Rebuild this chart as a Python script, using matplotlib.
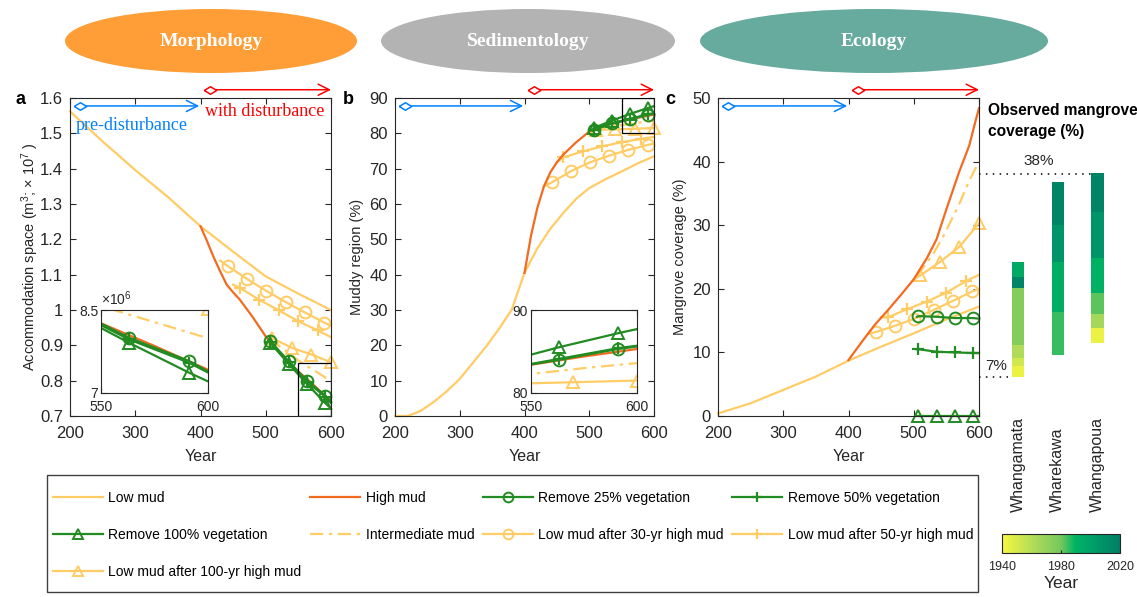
import numpy as np
import matplotlib
matplotlib.use("Agg")
import matplotlib.pyplot as plt
from matplotlib.lines import Line2D
from matplotlib.patches import Ellipse, Rectangle
from matplotlib.colors import LinearSegmentedColormap, Normalize
from matplotlib.cm import ScalarMappable
from matplotlib.ticker import FuncFormatter

plt.rcParams['font.family'] = ['Liberation Sans', 'DejaVu Sans']
plt.rcParams['mathtext.fontset'] = 'custom'
plt.rcParams['mathtext.rm'] = 'Liberation Sans'
plt.rcParams['mathtext.it'] = 'Liberation Sans:italic'

# ---- data ----
yr_low = [200, 250, 300, 350, 400, 450, 500, 550, 600]
yr_low_b = [200, 220, 240, 260, 280, 300, 320, 340, 360, 380, 400, 420, 440, 460,
            480, 500, 525, 550, 575, 600]
yr_high_ab = [400, 410, 420, 430, 440, 450, 460, 480, 500, 525, 550, 575, 600]
yr_high_c = [400, 420, 440, 460, 480, 500, 520, 535, 550, 570, 585, 595, 600]
yr_int = [505, 525, 550, 575, 600]
yr_int_c = [505, 530, 545, 560, 570, 585, 600]
yr_30 = [430, 442, 472, 501, 531, 560, 590, 600]
yr_50 = [450, 460, 490, 520, 550, 580, 600]
yr_100 = [500, 510, 540, 570, 600]
yr_veg = [505, 507, 535, 563, 591, 600]

# a: accommodation space (x 1e7 m3)
a_low = [1.562, 1.477, 1.396, 1.320, 1.237, 1.165, 1.095, 1.046, 1.000]
a_high = [1.237, 1.195, 1.150, 1.110, 1.072, 1.050, 1.030, 0.980, 0.925, 0.870, 0.826, 0.785, 0.742]
a_int = [0.915, 0.893, 0.857, 0.828, 0.799]
a_30 = [1.140, 1.124, 1.087, 1.054, 1.022, 0.993, 0.964, 0.955]
a_50 = [1.072, 1.063, 1.029, 0.999, 0.968, 0.942, 0.923]
a_100 = [0.925, 0.920, 0.893, 0.874, 0.852]
a_rm25 = [0.915, 0.912, 0.855, 0.800, 0.758, 0.739]
a_rm50 = [0.914, 0.910, 0.852, 0.797, 0.755, 0.737]
a_rm100 = [0.912, 0.907, 0.848, 0.791, 0.737, 0.721]

# b: muddy region (%)
b_low = [0, 0, 1.5, 4, 7, 10.5, 15, 19.5, 24.5, 30, 40.5, 47.5, 53, 57.5,
         61.5, 64.5, 67, 69.2, 71.5, 73.5]
b_high = [40.5, 51, 59, 65, 69, 71.8, 74, 77.5, 80.5, 82.4, 83.4, 84.4, 85.3]
b_int = [80.7, 81.6, 82.3, 83.0, 83.6]
b_30 = [65.0, 66.1, 69.3, 71.8, 73.7, 75.3, 76.7, 77.1]
b_50 = [71.8, 73.2, 74.9, 76.3, 77.5, 78.4, 79.0]
b_100 = [80.5, 81.0, 81.1, 81.3, 81.5]
b_rm25 = [80.8, 81.0, 82.8, 84.0, 85.3, 85.6]
b_rm50 = [80.8, 81.0, 82.8, 84.1, 85.4, 85.7]
b_rm100 = [81.0, 81.5, 83.6, 85.5, 87.2, 87.7]

# c: mangrove coverage (%)
c_low = [0.4, 2.0, 4.1, 6.2, 8.7, 10.9, 13.0, 15.2, 17.2]
c_high = [8.8, 11.6, 14.3, 16.6, 19.0, 21.5, 24.8, 27.8, 32.5, 38.5, 42.5, 46.5, 48.4]
c_int = [22.0, 25.5, 28.2, 31.3, 33.4, 37.0, 40.0]
c_30 = [12.9, 13.2, 14.2, 15.3, 16.7, 18.1, 19.6, 20.0]
c_50 = [15.5, 15.5, 16.8, 18.0, 19.4, 21.2, 22.2]
c_100 = [21.5, 22.1, 24.2, 26.6, 30.3]
c_rm25 = [15.6, 15.7, 15.6, 15.4, 15.4, 15.3]
c_rm50 = [10.5, 10.5, 10.1, 10.0, 9.9, 9.9]
c_rm100 = [0, 0, 0, 0, 0, 0]

# observed mangrove coverage: segment bottom/top (%) and survey year
sites = ['Whangamata', 'Wharekawa', 'Whangapoua']
wm_bot = [6.2, 7.8, 9.1, 11.2, 20.2, 21.9]
wm_top = [7.8, 9.1, 11.2, 20.2, 21.9, 24.2]
wm_year = [1944, 1952, 1962, 1975, 2017, 1995]
wk_bot = [9.6, 16.3, 24.2, 30.0]
wk_top = [16.3, 24.2, 30.0, 36.8]
wk_year = [1985, 1993, 2007, 2017]
wp_bot = [11.4, 13.9, 16.1, 19.3, 24.8, 32.0]
wp_top = [13.9, 16.1, 19.3, 24.8, 32.0, 38.2]
wp_year = [1944, 1965, 1982, 1991, 2007, 2017]
obs_max, obs_min = 38, 6.2

pre_period = [215, 398]
dist_period = [415, 600]

# ---- styles ----
LOW, HIGH, GREEN = '#FFCC66', '#F26B21', '#228B22'
styles = {
    'low': dict(color=LOW, lw=1.6),
    'high': dict(color=HIGH, lw=1.6),
    'rm25': dict(color=GREEN, lw=1.6, marker='o', ms=8.5, mfc='none', mew=1.4, markevery=slice(1, -1)),
    'rm50': dict(color=GREEN, lw=1.6, marker='+', ms=9, mew=1.6, markevery=slice(1, -1)),
    'rm100': dict(color=GREEN, lw=1.6, marker='^', ms=9, mfc='none', mew=1.4, markevery=slice(1, -1)),
    'int': dict(color=LOW, lw=1.6, ls=(0, (6, 2.5, 1.5, 2.5))),
    'l30': dict(color=LOW, lw=1.6, marker='o', ms=8.5, mfc='none', mew=1.4, markevery=slice(1, -1)),
    'l50': dict(color=LOW, lw=1.6, marker='+', ms=9, mew=1.6, markevery=slice(1, -1)),
    'l100': dict(color=LOW, lw=1.6, marker='^', ms=9, mfc='none', mew=1.4, markevery=slice(1, None)),
}
labels = {
    'low': 'Low mud', 'high': 'High mud', 'rm25': 'Remove 25% vegetation',
    'rm50': 'Remove 50% vegetation', 'rm100': 'Remove 100% vegetation',
    'int': 'Intermediate mud', 'l30': 'Low mud after 30-yr high mud',
    'l50': 'Low mud after 50-yr high mud', 'l100': 'Low mud after 100-yr high mud',
}

W, H = 1137, 597
fig = plt.figure(figsize=(W / 100, H / 100), dpi=100)


def box(x0, y0, x1, y1):
    return [x0 / W, 1 - y1 / H, (x1 - x0) / W, (y1 - y0) / H]


ax_a = fig.add_axes(box(70, 98, 331, 416))
ax_b = fig.add_axes(box(395, 98, 654, 416))
ax_c = fig.add_axes(box(718, 98, 979, 416))
ax_bar = fig.add_axes(box(979, 98, 1137, 416))
ins_a = fig.add_axes(box(101, 310, 208, 393))
ins_b = fig.add_axes(box(531, 310, 637, 393))
cax = fig.add_axes(box(1002, 534, 1120, 553))

TXT = '#262626'


def matlab_axes(ax, fs):
    ax.tick_params(direction='in', top=True, right=True, length=4, width=0.8,
                   labelsize=fs, colors=TXT, pad=4)
    for s in ax.spines.values():
        s.set_color(TXT)
        s.set_linewidth(0.8)


def series(x_low, low, high_x, high, int_x, ints, s30, s50, s100, r25, r50, r100):
    return [(x_low, low, 'low'), (int_x, ints, 'int'), (yr_30, s30, 'l30'),
            (yr_50, s50, 'l50'), (yr_100, s100, 'l100'), (high_x, high, 'high'),
            (yr_veg, r25, 'rm25'), (yr_veg, r50, 'rm50'), (yr_veg, r100, 'rm100')]


ser_a = series(yr_low, a_low, yr_high_ab, a_high, yr_int, a_int, a_30, a_50, a_100,
               a_rm25, a_rm50, a_rm100)
ser_b = series(yr_low_b, b_low, yr_high_ab, b_high, yr_int, b_int, b_30, b_50, b_100,
               b_rm25, b_rm50, b_rm100)
ser_c = series(yr_low, c_low, yr_high_c, c_high, yr_int_c, c_int, c_30, c_50, c_100,
               c_rm25, c_rm50, c_rm100)

diamond = [(-1, 0), (0, 0.6), (1, 0), (0, -0.6), (-1, 0)]
for ax, ser in [(ax_a, ser_a), (ax_b, ser_b), (ax_c, ser_c)]:
    for x, y, key in ser:
        ax.plot(x, y, clip_on=False, **styles[key])
    ax.set_xlim(200, 600)
    ax.set_xticks([200, 300, 400, 500, 600])
    ax.set_xlabel('Year', fontsize=11.5, color=TXT, labelpad=6)
    matlab_axes(ax, 12)
    ax.tick_params(axis='x', pad=7)
    ax.tick_params(axis='y', pad=5)
    # period arrows
    yb = 0.975
    ax.annotate('', xy=(pre_period[1], yb), xytext=(pre_period[0], yb),
                xycoords=ax.get_xaxis_transform(),
                arrowprops=dict(arrowstyle='->,head_length=0.8,head_width=0.4',
                                color='#0080FF', lw=1.1, shrinkA=0, shrinkB=0))
    ax.plot([pre_period[0]], [yb], transform=ax.get_xaxis_transform(), clip_on=False,
            marker=diamond, ms=9, mfc='white', mec='#0080FF', mew=1.1, zorder=5)
    yr = 1.026
    ax.annotate('', xy=(dist_period[1], yr), xytext=(dist_period[0], yr),
                xycoords=ax.get_xaxis_transform(), annotation_clip=False,
                arrowprops=dict(arrowstyle='->,head_length=0.8,head_width=0.4',
                                color='red', lw=1.1, shrinkA=0, shrinkB=0))
    ax.plot([dist_period[0]], [yr], transform=ax.get_xaxis_transform(), clip_on=False,
            marker=diamond, ms=9, mfc='white', mec='red', mew=1.1, zorder=5)

ax_a.set_ylim(0.7, 1.6)
ax_a.set_yticks(np.round(np.arange(0.7, 1.61, 0.1), 1))
ax_a.yaxis.set_major_formatter(FuncFormatter(lambda v, p: f'{v:g}'))
ax_a.set_ylabel('Accommodation space (m$^3$; × 10$^7$ )', fontsize=10.5, color=TXT, labelpad=-1)
ax_a.add_patch(Rectangle((550, 0.7), 50, 0.15, fill=False, ec='k', lw=0.9, zorder=6))
ax_a.text(208, 1.521, 'pre-disturbance', color='#0080FF', fontsize=13,
          family='Liberation Serif', va='center')
ax_a.text(407, 1.563, 'with disturbance', color='red', fontsize=13,
          family='Liberation Serif', va='center')

ax_b.set_ylim(0, 90)
ax_b.set_yticks(range(0, 91, 10))
ax_b.set_ylabel('Muddy region (%)', fontsize=10.5, color=TXT, labelpad=4)
ax_b.add_patch(Rectangle((550, 80), 50, 10, fill=False, ec='k', lw=0.9, zorder=6))

ax_c.set_ylim(0, 50)
ax_c.set_yticks(range(0, 51, 10))
ax_c.set_ylabel('Mangrove coverage (%)', fontsize=10.5, color=TXT, labelpad=4)

# insets
for x, y, key in ser_a:
    ins_a.plot(x, np.array(y) * 10, **styles[key])
ins_a.set_xlim(550, 600)
ins_a.set_ylim(7, 8.5)
ins_a.set_xticks([550, 600])
ins_a.set_yticks([7, 8.5])
ins_a.yaxis.set_major_formatter(FuncFormatter(lambda v, p: f'{v:g}'))
matlab_axes(ins_a, 10)
ins_a.tick_params(axis='y', pad=2)
ins_a.tick_params(axis='x', pad=5)
ins_a.text(0.0, 1.02, '×10$^6$', transform=ins_a.transAxes, fontsize=10, color=TXT,
           va='bottom')

for x, y, key in ser_b:
    ins_b.plot(x, y, **styles[key])
ins_b.set_xlim(550, 600)
ins_b.set_ylim(80, 90)
ins_b.set_xticks([550, 600])
ins_b.set_yticks([80, 90])
matlab_axes(ins_b, 10)
ins_b.tick_params(axis='y', pad=2)
ins_b.tick_params(axis='x', pad=5)

# observed mangrove coverage bars
cmap = LinearSegmentedColormap.from_list(
    'obs', [(0, '#F7F740'), (0.3, '#A8D85A'), (0.5, '#74C85C'), (0.62, '#00B462'),
            (0.8, '#009A68'), (1, '#007F66')])
norm = Normalize(1940, 2020)
for i, (bot, top, yrs) in enumerate([(wm_bot, wm_top, wm_year), (wk_bot, wk_top, wk_year),
                                     (wp_bot, wp_top, wp_year)]):
    ax_bar.bar([i] * len(bot), np.subtract(top, bot), bottom=bot, width=0.31,
               color=cmap(norm(np.array(yrs))), linewidth=0)
ax_bar.set_xlim(-0.99, 3.0)
ax_bar.set_ylim(0, 50)
ax_bar.axis('off')
ax_bar.hlines(obs_max, -0.99, 1.88, colors='k', linestyles=(0, (1, 3.5)), lw=1.1)
ax_bar.hlines(obs_min, -0.99, -0.15, colors='k', linestyles=(0, (1, 3.5)), lw=1.1)
ax_bar.text(0.53, obs_max + 1.0, f'{obs_max}%', ha='center', va='bottom', fontsize=11, color=TXT)
ax_bar.text(-0.56, 7.9, '7%', ha='center', va='center', fontsize=11, color=TXT)
for i, name in enumerate(sites):
    fig.text((1018 + 39.5 * i) / W, 1 - 512 / H, name, rotation=90, ha='center',
             va='bottom', fontsize=11.5, color=TXT)
fig.text(988 / W, 1 - 121 / H, 'Observed mangrove\ncoverage (%)', ha='left', va='center',
         fontsize=11.2, fontweight='bold', linespacing=1.5, color='k')

cb = fig.colorbar(ScalarMappable(norm=norm, cmap=cmap), cax=cax, orientation='horizontal')
cb.set_ticks([1940, 1980, 2020])
cb.ax.tick_params(labelsize=9, direction='in', length=2, colors=TXT, pad=6)
cb.outline.set_linewidth(0.8)
cb.outline.set_edgecolor(TXT)
cb.set_label('Year', fontsize=12.5, color=TXT, labelpad=2)

# panel letters
for x, s in [(16, 'a'), (343, 'b'), (665, 'c')]:
    fig.text(x / W, 1 - 100 / H, s, fontsize=13, fontweight='bold', va='center', color='k')

# header ellipses
for cx, w, name, col in [(211, 292, 'Morphology', '#FF9D37'),
                         (528, 294, 'Sedimentology', '#B3B3B3'),
                         (874, 348, 'Ecology', '#67AB9F')]:
    fig.add_artist(Ellipse((cx / W, 1 - 41 / H), w / W, 64 / H, transform=fig.transFigure,
                           facecolor=col, edgecolor='none'))
    fig.text(cx / W, 1 - 42 / H, name, ha='center', va='center', color='white',
             fontsize=14, fontweight='bold', family='Liberation Serif')

# legend
order = ['low', 'rm100', 'l100', 'high', 'int', 'rm25', 'l30', 'rm50', 'l50']
handles = []
for key in order:
    st = {k: v for k, v in styles[key].items() if k != 'markevery'}
    if 'ms' in st:
        st['ms'] = 7
    handles.append(Line2D([], [], **st))
fig.add_artist(Rectangle((47 / W, 1 - 592 / H), (978 - 47) / W, (592 - 475) / H,
                         transform=fig.transFigure, fill=False, ec='#404040', lw=1))
fig.legend(handles, [labels[k] for k in order], ncol=4, loc='upper left', mode='expand',
           bbox_to_anchor=(50 / W, 1 - 600 / H, (976 - 50) / W, (600 - 488) / H),
           frameon=False, fontsize=10, handlelength=3.6, handletextpad=0.4,
           labelspacing=1.65, borderpad=0.2, borderaxespad=0)

fig.savefig('out.png', dpi=100)
